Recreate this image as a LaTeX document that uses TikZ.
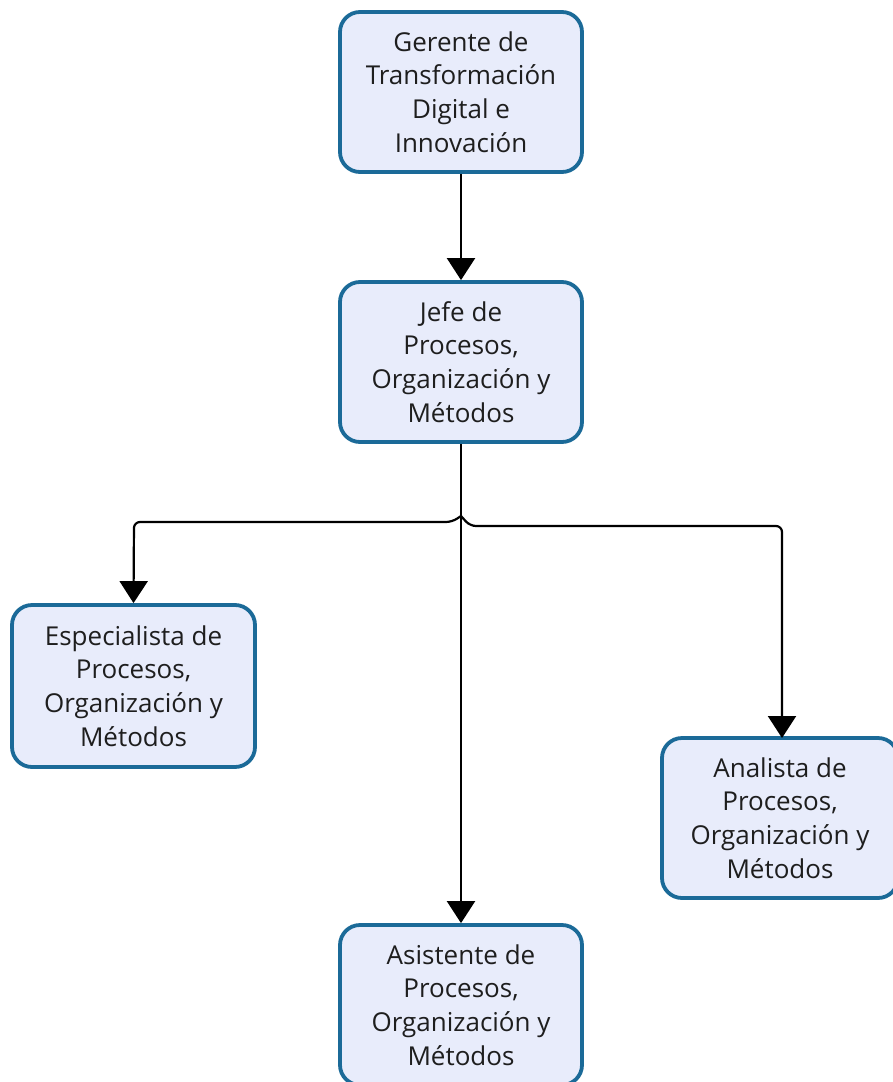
\documentclass[tikz,border=0pt]{standalone}
\usepackage{fontspec}
\setmainfont{Open Sans}
\usetikzlibrary{arrows.meta}
\definecolor{boxline}{HTML}{1B6A98}
\definecolor{boxfill}{HTML}{E8ECFB}
\definecolor{txt}{HTML}{1E1E1E}
\tikzset{
  orgbox/.style={draw=boxline, fill=boxfill, line width=3.8pt, rounded corners=20pt,
    align=center, text=txt, font=\fontsize{26}{33.8}\selectfont, inner sep=0pt},
  conn/.style={line width=2.2pt, -{Triangle[length=22pt,width=28pt]}},
}
\begin{document}
\begin{tikzpicture}[x=1pt,y=-1pt]
\useasboundingbox (0,0) rectangle (893,1082);
\clip (0,0) rectangle (893,1082);
\node[orgbox, minimum width=242pt, minimum height=160pt] (ger) at (461,92)
  {Gerente de\\Transformación\\Digital e\\Innovación};
\node[orgbox, minimum width=242pt, minimum height=160pt] (jefe) at (461,362)
  {Jefe de\\Procesos,\\Organización y\\Métodos};
\node[orgbox, minimum width=243pt, minimum height=162pt] (esp) at (133.5,686)
  {Especialista de\\Procesos,\\Organización y\\Métodos};
\node[orgbox, minimum width=236pt, minimum height=160pt] (ana) at (780,818)
  {Analista de\\Procesos,\\Organización y\\Métodos};
\node[orgbox, minimum width=242pt, minimum height=160pt] (asi) at (461,1005)
  {Asistente de\\Procesos,\\Organización y\\Métodos};
\coordinate (j) at (461,516);
\draw[conn] (ger.south) -- (jefe.north);
\draw[line width=2.2pt] (jefe.south) -- (j);
\draw[conn, rounded corners=6pt] (j) -- (452,522) -- (134,522) -- (esp.north);
\draw[conn, rounded corners=6pt] (j) -- (470,526) -- (782,526) -- (782,738);
\draw[conn] (j) -- (asi.north);
\end{tikzpicture}
\end{document}
